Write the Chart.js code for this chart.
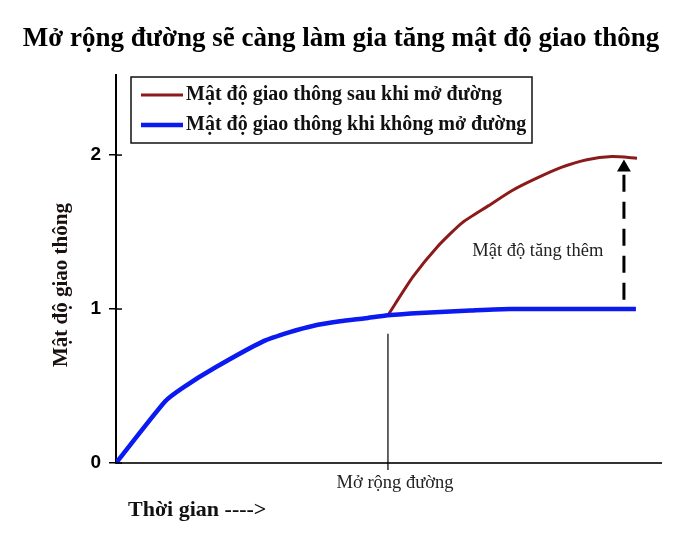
<!DOCTYPE html>
<html>
<head>
<meta charset="utf-8">
<script src="https://cdn.jsdelivr.net/npm/chart.js@4.4.0/dist/chart.umd.min.js"></script>
<style>
  html, body { margin: 0; padding: 0; background: #fff; }
</style>
</head>
<body>
<canvas id="trafficChart" width="696" height="551"></canvas>
<script>
// values (x = time, 0..100 ; y = traffic density)
const timeBase = [0, 9.0, 12.3, 18.2, 27.0, 31.9, 36.1, 41.1, 45.7, 49.9, 55.8, 65.0, 72.3, 95.4];
const densityBase = [0, 0.40, 0.49, 0.62, 0.79, 0.85, 0.89, 0.92, 0.94, 0.96, 0.975, 0.99, 1.0, 1.0];
const timeWiden = [49.9, 54.5, 59.1, 63.5, 68.3, 72.7, 77.2, 81.7, 86.4, 91.0, 95.6];
const densityWiden = [0.96, 1.21, 1.41, 1.56, 1.67, 1.77, 1.85, 1.92, 1.97, 1.99, 1.98];
const yTicks = [0, 1, 2];
const widenAt = 49.9;              // moment the road is widened
const widenMark = [0.84, -0.045];  // vertical marker line, top and bottom
const arrowAt = 93.2;
const arrowSpan = [1.06, 1.92];    // dashed arrow from / to

const labelWiden = 'Mật độ giao thông sau khi mở đường';
const labelBase = 'Mật độ giao thông khi không mở đường';

const SERIF = '"Liberation Serif", "DejaVu Serif", serif';

function pts(xs, ys) {
  return xs.map((x, i) => ({ x: x, y: ys[i] }));
}

// legend box, axis title and notes drawn on top of the chart
const extrasPlugin = {
  id: 'extras',
  afterDraw(chart) {
    const ctx = chart.ctx;
    const xs = chart.scales.x;
    const ys = chart.scales.y;
    ctx.save();

    // small inner half of the y ticks
    ctx.strokeStyle = '#000';
    ctx.lineWidth = 1.5;
    yTicks.forEach(v => {
      const py = ys.getPixelForValue(v);
      ctx.beginPath();
      ctx.moveTo(xs.left, py);
      ctx.lineTo(xs.left + 6, py);
      ctx.stroke();
    });

    // legend
    ctx.lineWidth = 1.5;
    ctx.strokeStyle = '#111';
    ctx.strokeRect(131, 77, 401, 66);
    let rowY = 95;
    chart.data.datasets.filter(d => d.label).forEach(d => {
      ctx.strokeStyle = d.borderColor;
      ctx.lineWidth = d.borderWidth;
      ctx.beginPath();
      ctx.moveTo(141, rowY);
      ctx.lineTo(183, rowY);
      ctx.stroke();
      ctx.fillStyle = '#111';
      ctx.font = 'bold 20px ' + SERIF;
      ctx.textAlign = 'left';
      ctx.textBaseline = 'middle';
      ctx.fillText(d.label, 186, rowY);
      rowY += 30;
    });

    // y axis title
    ctx.save();
    ctx.translate(62, 285);
    ctx.rotate(-Math.PI / 2);
    ctx.font = 'bold 21px ' + SERIF;
    ctx.fillStyle = '#1a1010';
    ctx.textAlign = 'center';
    ctx.textBaseline = 'middle';
    ctx.fillText('Mật độ giao thông', 0, 0);
    ctx.restore();

    // notes
    ctx.font = '18.5px ' + SERIF;
    ctx.fillStyle = '#222';
    ctx.textAlign = 'center';
    ctx.textBaseline = 'middle';
    ctx.fillText('Mật độ tăng thêm', xs.getPixelForValue(77.4), ys.getPixelForValue(1.377));
    ctx.fillText('Mở rộng đường', xs.getPixelForValue(51.2), ys.bottom + 20);

    ctx.font = 'bold 22px ' + SERIF;
    ctx.fillStyle = '#111';
    ctx.textAlign = 'left';
    ctx.fillText('Thời gian ---->', 128, ys.bottom + 47);

    ctx.restore();
  }
};

new Chart(document.getElementById('trafficChart'), {
  type: 'line',
  data: {
    datasets: [
      {
        label: labelWiden,
        data: pts(timeWiden, densityWiden),
        borderColor: '#8b1a1a',
        borderWidth: 3,
        pointRadius: 0,
        tension: 0.2,
        order: 2
      },
      {
        label: labelBase,
        data: pts(timeBase, densityBase),
        borderColor: '#0a1af0',
        borderWidth: 4.5,
        pointRadius: 0,
        tension: 0.2,
        order: 1
      },
      {
        data: pts([widenAt, widenAt], widenMark),
        borderColor: '#000',
        borderWidth: 1.2,
        pointRadius: 0,
        clip: false,
        order: 3
      },
      {
        data: pts([arrowAt, arrowAt], arrowSpan),
        borderColor: '#000',
        backgroundColor: '#000',
        borderWidth: 3,
        borderDash: [17, 10],
        pointStyle: 'triangle',
        pointRadius: [0, 8],
        pointBorderWidth: 0,
        order: 3
      }
    ]
  },
  options: {
    responsive: false,
    animation: false,
    layout: { padding: { left: 21, right: 35, top: 0, bottom: 0 } },
    plugins: {
      legend: { display: false },
      tooltip: { enabled: false },
      title: {
        display: true,
        text: 'Mở rộng đường sẽ càng làm gia tăng mật độ giao thông',
        color: '#000',
        font: { family: SERIF, size: 27, weight: 'bold', lineHeight: 1.2 },
        padding: { top: 23, bottom: 19.6 }
      }
    },
    scales: {
      x: {
        type: 'linear',
        min: 0,
        max: 100,
        grid: { display: false },
        border: { display: true, color: '#333', width: 2 },
        ticks: { display: false },
        afterFit(scale) { scale.height = 88; }
      },
      y: {
        type: 'linear',
        min: 0,
        max: 2.52,
        afterBuildTicks(scale) { scale.ticks = yTicks.map(v => ({ value: v })); },
        grid: { drawOnChartArea: false, drawTicks: true, tickLength: 7, color: '#000', lineWidth: 1.5 },
        border: { display: true, color: '#000', width: 2 },
        ticks: {
          color: '#000',
          padding: 8,
          font: { family: '"Liberation Sans", Arial, sans-serif', size: 19, weight: 'bold' }
        },
        afterFit(scale) { scale.width = 95; }
      }
    }
  },
  plugins: [extrasPlugin]
});
</script>
</body>
</html>
